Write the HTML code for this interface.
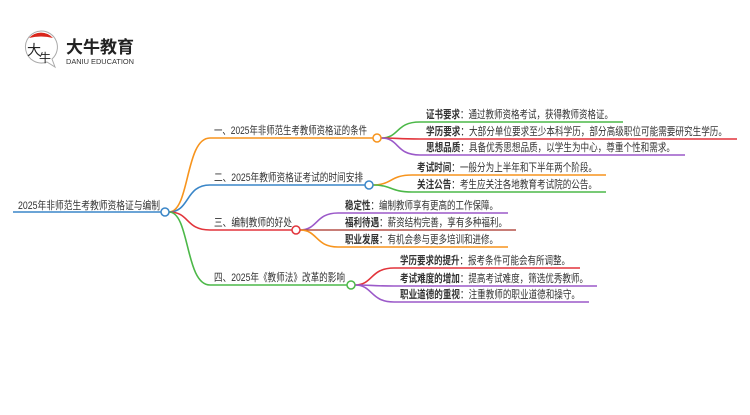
<!DOCTYPE html>
<html><head><meta charset="utf-8"><style>
body{margin:0;background:#fff;}
svg text{font-family:"Liberation Sans","Noto Sans CJK SC",sans-serif;font-size:11px;fill:#333;}
.b{font-weight:bold;}
</style></head><body>
<svg width="750" height="410" viewBox="0 0 750 410" xmlns="http://www.w3.org/2000/svg">
<path d="M41 31 A16 16 0 1 0 47 62 L55 67 L52 59 A16 16 0 0 0 41 31Z" fill="none" stroke="#aaa" stroke-width="1"/>
<path d="M29 38 A16 16 0 0 1 53 38 Q41 35 29 38Z" fill="#d9261c"/>
<text x="27" y="55" style="font-size:14px;fill:#222">大</text>
<text x="39" y="62" style="font-size:12px;fill:#222">牛</text>
<text x="66" y="53" style="font-size:17px;font-weight:bold;fill:#222" textLength="68" lengthAdjust="spacingAndGlyphs">大牛教育</text>
<text x="66" y="64" style="font-size:7px;fill:#333" textLength="68" lengthAdjust="spacingAndGlyphs">DANIU EDUCATION</text>
<g fill="none" stroke-width="1.6">
<line x1="13" y1="212" x2="161" y2="212" stroke="#3a86c8"/>
<path d="M169 212 C190 212,185 138,210 138 L373 138" stroke="#f7941d"/>
<path d="M169 212 C190 212,185 185,210 185 L365 185" stroke="#3a86c8"/>
<path d="M169 212 C190 212,185 230,210 230 L292 230" stroke="#e2343b"/>
<path d="M169 212 C190 212,185 285,210 285 L347 285" stroke="#4cb848"/>
<path d="M381 138 C400 138,395 122,420 122 L623 122" stroke="#4cb848"/>
<path d="M381 138 C400 138,395 139,420 139 L737 139" stroke="#e2343b"/>
<path d="M381 138 C400 138,395 155,420 155 L685 155" stroke="#9b59c9"/>
<path d="M373 185 C392 185,390 175,412 175 L606 175" stroke="#f7941d"/>
<path d="M373 185 C392 185,390 192,412 192 L606 192" stroke="#4cb848"/>
<path d="M300 230 C318 230,315 213,338 213 L508 213" stroke="#9b59c9"/>
<path d="M300 230 L516 230" stroke="#b5524a"/>
<path d="M300 230 C318 230,315 247,338 247 L508 247" stroke="#f7941d"/>
<path d="M355 285 C373 285,370 268,394 268 L580 268" stroke="#e2343b"/>
<path d="M355 285 C373 285,370 286,394 286 L597 286" stroke="#9b59c9"/>
<path d="M355 285 C373 285,370 302,394 302 L589 302" stroke="#9b59c9"/>
</g>
<g fill="#fff" stroke-width="1.5">
<circle cx="165" cy="212" r="4" stroke="#3a86c8"/>
<circle cx="377" cy="138" r="4" stroke="#f7941d"/>
<circle cx="369" cy="185" r="4" stroke="#3a86c8"/>
<circle cx="296" cy="230" r="4" stroke="#e2343b"/>
<circle cx="351" cy="285" r="4" stroke="#4cb848"/>
</g>
<text x="18" y="209" textLength="142" lengthAdjust="spacingAndGlyphs">2025年非师范生考教师资格证与编制</text>
<text x="214" y="134" textLength="153" lengthAdjust="spacingAndGlyphs">一、2025年非师范生考教师资格证的条件</text>
<text x="214" y="181" textLength="149" lengthAdjust="spacingAndGlyphs">二、2025年教师资格证考试的时间安排</text>
<text x="214" y="226" textLength="78" lengthAdjust="spacingAndGlyphs">三、编制教师的好处</text>
<text x="214" y="281" textLength="131" lengthAdjust="spacingAndGlyphs">四、2025年《教师法》改革的影响</text>
<text x="426" y="118" textLength="187" lengthAdjust="spacingAndGlyphs"><tspan class="b">证书要求</tspan>：通过教师资格考试，获得教师资格证。</text>
<text x="426" y="135" textLength="301" lengthAdjust="spacingAndGlyphs"><tspan class="b">学历要求</tspan>：大部分单位要求至少本科学历，部分高级职位可能需要研究生学历。</text>
<text x="426" y="151" textLength="249" lengthAdjust="spacingAndGlyphs"><tspan class="b">思想品质</tspan>：具备优秀思想品质，以学生为中心，尊重个性和需求。</text>
<text x="417" y="171" textLength="180" lengthAdjust="spacingAndGlyphs"><tspan class="b">考试时间</tspan>：一般分为上半年和下半年两个阶段。</text>
<text x="417" y="188" textLength="180" lengthAdjust="spacingAndGlyphs"><tspan class="b">关注公告</tspan>：考生应关注各地教育考试院的公告。</text>
<text x="345" y="209" textLength="153" lengthAdjust="spacingAndGlyphs"><tspan class="b">稳定性</tspan>：编制教师享有更高的工作保障。</text>
<text x="345" y="226" textLength="162" lengthAdjust="spacingAndGlyphs"><tspan class="b">福利待遇</tspan>：薪资结构完善，享有多种福利。</text>
<text x="345" y="243" textLength="153" lengthAdjust="spacingAndGlyphs"><tspan class="b">职业发展</tspan>：有机会参与更多培训和进修。</text>
<text x="400" y="264" textLength="170" lengthAdjust="spacingAndGlyphs"><tspan class="b">学历要求的提升</tspan>：报考条件可能会有所调整。</text>
<text x="400" y="282" textLength="188" lengthAdjust="spacingAndGlyphs"><tspan class="b">考试难度的增加</tspan>：提高考试难度，筛选优秀教师。</text>
<text x="400" y="298" textLength="180" lengthAdjust="spacingAndGlyphs"><tspan class="b">职业道德的重视</tspan>：注重教师的职业道德和操守。</text>
</svg>
</body></html>
